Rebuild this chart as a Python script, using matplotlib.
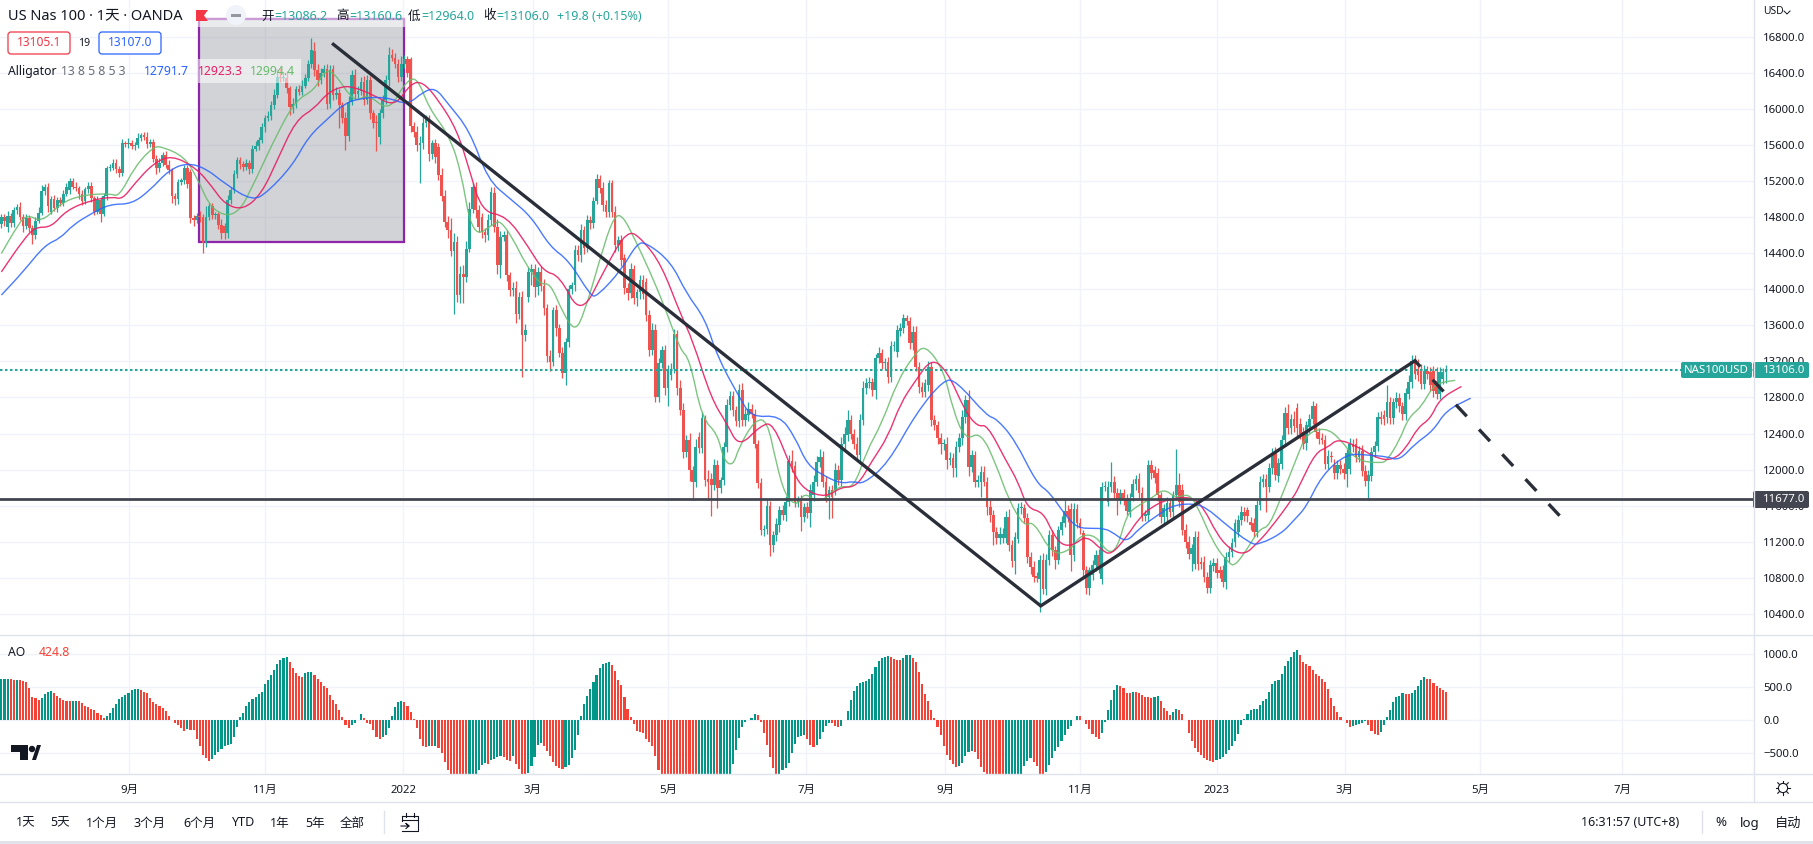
# US Nas 100 daily chart with Alligator and AO panes.
import numpy as np
import matplotlib
matplotlib.use('Agg')
import matplotlib.pyplot as plt
from matplotlib.patches import Rectangle, Polygon, Circle, FancyBboxPatch, PathPatch
from matplotlib.path import Path

plt.rcParams['font.family'] = ['Noto Sans', 'Noto Sans CJK SC', 'DejaVu Sans']

# daily candles
opens = [
    14720,14800,14690,14810,14730,14880,14910,14800,14700,14790,
    14680,14600,14760,14850,15090,15140,14860,15000,14900,14990,
    14960,15060,15100,15200,15140,15120,15060,14980,15110,15150,
    15010,14860,14990,14840,15030,15340,15350,15400,15330,15290,
    15620,15610,15620,15590,15600,15680,15710,15690,15610,15630,
    15450,15340,15400,15490,15380,15320,15030,15000,15190,15210,
    15340,15300,14790,14770,14810,14800,14510,14800,14920,14820,
    14830,14710,14700,14620,14990,15100,15280,15430,15390,15360,
    15400,15330,15560,15590,15660,15800,15900,15920,16040,16160,
    16360,16340,16340,16230,16020,16060,16220,16190,16260,16340,
    16500,16640,16430,16320,16400,16440,16060,16440,16150,16180,
    16040,15900,15700,16080,16380,16170,16200,16300,16100,16320,
    15950,15850,15690,15950,16100,16320,16600,16570,16500,16360,
    16500,16550,16550,15810,15750,15600,15620,15850,15900,15500,
    15620,15580,15270,15040,14750,14660,14430,14530,13940,14170,
    14140,14450,14895,15137,14880,14800,14638,14600,14770,15063,
    14693,14268,14582,14600,14155,13990,14010,13731,13915,13490,
    13916,14193,14220,14030,14193,14040,13790,13262,13196,13768,
    13565,13296,13074,13416,13998,14046,14434,14378,14656,14453,
    14767,14730,14982,15218,15118,14934,14860,15174,14860,14490,
    14545,14345,14010,13955,14220,13900,13966,14100,14083,13720,
    13325,13547,12808,13180,13325,12900,13047,13120,13503,12900,
    12666,12197,12326,11993,11863,12356,12234,12567,11893,11893,
    11826,12056,11801,11882,12252,12714,12814,12659,12541,12888,
    12548,12604,12677,12622,12289,11852,11327,11340,11593,11160,
    11271,11383,11549,11494,11642,12097,12037,11642,11660,11475,
    11586,11520,11716,11864,12085,12141,11864,11697,11771,11771,
    11993,11882,12289,12381,12548,12400,12289,12160,12555,12900,
    12955,12970,12888,13233,13295,13177,13188,13029,13369,13307,
    13540,13570,13678,13652,13400,13530,13140,12911,12863,12937,
    13140,12548,12493,12345,12282,12282,12111,12123,12012,12252,
    12345,12578,12770,12030,12160,11863,11863,11975,11863,11586,
    11494,11308,11236,11236,11236,11476,11161,10988,11235,11569,
    11569,11458,11032,10921,10810,10791,11002,10680,10995,11272,
    11106,11002,11328,11409,11543,11568,11050,11568,11402,11291,
    10884,10688,10830,10940,11050,10791,11809,11643,11809,11865,
    11735,11668,11735,11668,11532,11698,11839,11890,11742,11490,
    11494,12050,11990,11957,11716,11469,11476,11631,11524,11716,
    11828,11772,11335,11198,11069,10958,11254,10977,10977,10810,
    10688,10930,10965,10891,10891,10754,11025,11087,11199,11309,
    11439,11532,11550,11420,11409,11309,11606,11865,11900,11809,
    12013,12179,11930,12061,12327,12623,12456,12560,12679,12507,
    12414,12292,12470,12562,12703,12414,12355,12329,12063,12155,
    12055,11960,12055,12008,11952,12008,12285,12285,12137,12211,
    11989,11878,11933,12193,12267,12581,12600,12581,12747,12570,
    12747,12796,12700,12611,12833,12970,13210,13118,13118,12951,
    13099,13080,13099,12988,12840,13000,13086]
closes = [
    14800,14760,14810,14730,14880,14910,14800,14700,14790,14680,
    14600,14760,14850,15090,15140,14920,15000,14900,14990,14960,
    15060,15130,15200,15140,15120,15060,14980,15110,15150,15010,
    14860,14990,14840,15030,15340,15350,15400,15330,15290,15620,
    15610,15620,15590,15600,15680,15710,15690,15610,15630,15450,
    15340,15400,15490,15380,15320,15030,15000,15190,15210,15340,
    15170,14790,14770,14810,14800,14510,14800,14920,14820,14830,
    14710,14620,14620,14990,15100,15280,15430,15390,15360,15400,
    15330,15560,15590,15660,15800,15900,15920,16040,16160,16360,
    16340,16350,16230,16020,16060,16220,16190,16260,16340,16500,
    16650,16430,16320,16400,16440,16060,16430,16150,16180,16040,
    15900,15700,16080,16380,16170,16200,16300,16100,16320,15950,
    15850,15840,15950,16100,16320,16600,16570,16500,16360,16500,
    16550,16400,15810,15750,15600,15620,15850,15900,15500,15620,
    15470,15270,15040,14750,14660,14430,14530,13940,14170,14140,
    14450,14895,15137,14880,14693,14638,14600,14770,15082,14693,
    14268,14582,14600,14155,13990,14010,13731,13915,13490,13550,
    14193,14220,14030,14193,14040,13790,13262,13196,13768,13565,
    13296,13074,13416,13998,14046,14434,14378,14656,14453,14767,
    14730,14982,15218,15118,14934,14860,15174,14860,14490,14545,
    14323,14010,13955,14220,13900,13966,14100,13950,13720,13325,
    13547,12808,13180,13325,12900,13120,13120,13503,12900,12666,
    12197,12326,11993,11863,12252,12234,12567,11882,11860,11826,
    12056,11801,11882,12252,12714,12814,12659,12541,12888,12548,
    12622,12677,12622,12289,11852,11327,11340,11593,11160,11271,
    11401,11549,11494,11640,12097,12037,11642,11660,11475,11586,
    11520,11778,11864,12085,12141,11864,11697,11771,11700,11993,
    11882,12289,12400,12548,12400,12289,12160,12555,12900,12955,
    12970,12888,13233,13295,13177,13188,13029,13369,13380,13547,
    13570,13678,13652,13400,13530,13140,12911,12863,12955,13140,
    12548,12493,12345,12282,12290,12111,12130,12012,12252,12345,
    12585,12770,12030,12160,11863,11880,11975,11863,11586,11494,
    11308,11236,11290,11290,11476,11161,10988,11254,11569,11590,
    11458,11032,10921,10810,10800,11002,10680,11002,11272,11106,
    11002,11328,11420,11543,11480,11050,11568,11402,11347,10891,
    10688,10884,10940,11050,10903,11809,11810,11809,11865,11735,
    11668,11735,11668,11543,11680,11839,11890,11742,11483,11500,
    12050,11957,11910,11716,11469,11570,11631,11530,11716,11828,
    11643,11335,11198,11069,11125,11254,10951,10951,10810,10688,
    10940,10965,10854,10854,10754,11025,11087,11187,11402,11440,
    11532,11484,11484,11384,11309,11606,11865,11900,11809,12013,
    12179,11939,12068,12327,12623,12456,12560,12479,12456,12396,
    12285,12489,12562,12703,12414,12340,12329,12063,12155,12140,
    11960,12055,12008,11960,12181,12285,12250,12137,12211,11989,
    11878,11945,12193,12267,12581,12565,12565,12747,12570,12747,
    12796,12700,12618,12847,12977,13210,13062,13044,12951,13099,
    13062,12933,12877,12840,13080,13086,13106]
upper_wick = [
    40,30,60,40,30,40,60,40,50,30,
    30,40,60,70,30,40,40,50,30,30,
    40,50,40,30,50,30,40,30,40,40,
    30,40,30,40,30,40,50,40,40,50,
    30,60,40,30,50,20,30,50,40,40,
    40,60,30,40,50,30,40,30,30,40,
    40,30,30,40,60,40,120,40,40,30,
    30,70,30,60,30,40,40,40,30,50,
    30,40,50,30,40,30,60,50,60,80,
    100,60,80,30,60,40,50,60,50,40,
    134,100,70,60,50,60,60,50,60,40,
    40,70,60,50,60,50,60,70,60,50,
    40,80,50,60,60,90,60,50,50,90,
    50,40,30,50,60,80,60,30,30,40,
    50,40,70,60,60,130,90,60,90,100,
    90,70,40,50,60,50,40,60,50,70,
    90,60,50,60,40,70,80,50,70,60,
    50,60,60,50,60,70,50,60,40,60,
    50,60,40,50,40,60,60,70,50,60,
    50,40,60,50,70,60,40,40,60,50,
    60,50,60,70,50,40,60,60,40,50,
    80,70,60,50,60,40,60,60,50,90,
    70,60,80,50,90,60,70,40,100,70,
    60,50,40,50,70,60,60,50,60,70,
    60,70,50,50,40,60,40,70,60,50,
    60,50,60,70,60,120,60,50,60,40,
    50,60,80,70,90,60,60,50,60,80,
    60,70,70,118,60,50,70,60,80,60,
    60,50,50,60,40,50,60,60,50,60,
    60,50,40,40,60,60,50,60,50,60,
    50,60,50,60,50,80,60,60,70,60,
    80,60,110,60,50,60,70,60,60,80,
    60,50,70,60,60,90,60,50,60,50,
    50,60,50,60,50,50,70,60,60,60,
    50,50,60,137,60,60,60,50,60,40,
    50,40,60,60,70,50,60,60,214,60,
    60,50,50,60,60,60,50,70,60,50,
    60,60,50,60,40,50,60,50,50,400,
    130,70,60,60,50,60,60,50,60,50,
    60,50,50,40,50,60,60,50,50,60,
    60,50,40,50,50,60,60,50,50,60,
    60,70,60,60,70,100,60,90,60,60,
    60,50,50,60,33,50,50,50,60,50,
    60,50,50,60,50,60,50,60,50,60,
    60,50,60,50,60,70,60,186,60,50,
    60,50,50,60,70,60,60,110,50,60,
    50,60,50,148,60,40,54]
lower_wick = [
    40,60,50,40,40,40,30,60,30,50,
    100,40,30,30,40,60,30,30,40,40,
    40,30,40,30,30,60,40,30,40,40,
    40,30,90,30,40,30,30,40,40,30,
    30,40,30,40,30,30,30,40,30,40,
    60,40,30,40,40,70,60,50,30,40,
    50,60,70,40,50,110,40,30,40,40,
    40,60,60,50,40,30,40,60,50,40,
    50,40,30,40,40,50,30,40,40,40,
    40,30,50,90,60,50,40,40,30,30,
    40,60,60,40,50,60,50,50,40,250,
    60,155,50,40,60,50,40,60,50,60,
    60,310,80,50,40,60,40,50,60,50,
    40,50,60,60,70,420,60,50,80,60,
    70,60,60,60,90,60,700,80,90,290,
    60,40,50,90,60,70,80,50,60,60,
    100,140,50,60,70,60,100,60,460,60,
    60,140,120,90,60,70,70,100,50,80,
    50,60,137,60,50,60,60,70,60,40,
    60,50,40,50,70,60,60,60,80,60,
    60,60,70,50,60,80,70,60,70,60,
    50,60,60,50,70,190,50,50,70,60,
    70,60,120,180,60,50,50,60,200,340,
    50,230,60,50,60,50,60,60,70,60,
    70,60,50,50,60,55,60,50,120,70,
    60,70,50,60,50,60,60,60,160,60,
    60,160,60,50,60,60,60,240,240,50,
    50,60,60,60,60,60,50,60,60,60,
    50,70,100,50,60,60,70,60,50,60,
    60,50,50,60,70,50,60,60,60,70,
    60,50,60,110,60,100,60,93,93,60,
    70,60,100,60,60,60,166,50,90,70,
    150,60,60,50,50,60,70,150,50,60,
    50,70,80,60,50,369,60,70,50,60,
    110,50,50,50,60,170,60,50,60,80,
    70,81,60,70,50,60,50,50,60,60,
    170,50,60,50,60,50,60,60,50,60,
    60,60,60,60,60,80,60,60,50,40,
    60,60,70,60,190,60,60,50,60,60,
    60,50,60,60,60,80,50,60,60,60,
    50,50,60,50,60,60,50,60,280,60,
    60,60,70,50,60,60,60,60,80,60,
    60,70,60,60,60,60,50,60,60,60,
    70,60,60,70,148,60,60,50,50,60,
    60,210,60,50,60,60,70,60,60,60,
    60,60,70,60,50,60,60,60,60,60,
    60,60,70,60,60,50,122]

# awesome oscillator, one value a bar (those under -800 are off the pane)
ao_values = [
    630,630,630,625,615,615,610,590,580,480,
    345,330,305,330,395,430,440,415,365,330,
    305,295,290,290,290,285,255,215,195,165,
    155,115,80,40,65,115,180,245,320,355,
    380,415,455,470,470,455,430,405,340,280,
    245,215,180,145,65,5,-35,-70,-120,-155,
    -135,-145,-150,-280,-385,-520,-570,-610,-585,-530,
    -480,-435,-395,-380,-355,-245,-95,45,110,215,
    280,320,355,400,430,555,605,680,755,855,
    905,945,955,880,790,715,665,660,715,730,
    735,680,630,580,520,480,380,305,240,155,
    55,-70,-110,-70,-35,5,90,30,-35,-60,
    -145,-255,-280,-245,-220,-110,65,195,270,290,
    270,215,130,20,-110,-280,-395,-410,-385,-395,
    -385,-420,-495,-630,-755,-820,-860,-900,-930,-950,
    -960,-940,-910,-880,-745,-670,-645,-655,-600,-580,
    -555,-545,-560,-595,-610,-545,-655,-735,-810,-820,
    -795,-695,-555,-370,-345,-385,-470,-545,-635,-695,
    -720,-730,-700,-670,-570,-445,-220,65,240,365,
    470,580,680,790,845,865,875,830,740,615,
    530,355,165,45,-55,-155,-170,-195,-285,-320,
    -395,-545,-755,-820,-850,-900,-980,-1050,-1120,-1180,
    -1210,-1240,-1260,-1280,-1300,-1270,-1240,-1200,-1160,-1120,
    -1090,-1100,-1050,-1000,-920,-820,-665,-455,-265,-95,
    -25,10,40,90,85,-20,-185,-380,-560,-725,
    -830,-815,-755,-725,-650,-500,-350,-255,-230,-225,
    -275,-365,-410,-365,-275,-170,-80,-35,-40,-80,
    -95,-80,5,145,310,445,520,565,580,595,
    625,700,805,895,940,955,970,955,925,910,
    905,940,985,990,940,880,730,550,400,295,
    160,40,-95,-215,-395,-530,-605,-665,-710,-695,
    -650,-545,-485,-470,-485,-590,-710,-785,-820,-850,
    -880,-900,-920,-930,-910,-890,-870,-850,-830,-810,
    -695,-620,-575,-635,-695,-810,-830,-785,-680,-575,
    -470,-410,-305,-215,-125,-80,5,70,65,0,
    -50,-125,-200,-245,-275,-185,-20,160,310,460,
    535,520,490,415,410,430,425,415,385,355,
    350,340,355,370,295,190,145,85,130,175,
    160,100,10,-185,-305,-425,-485,-530,-575,-600,
    -620,-635,-605,-590,-560,-515,-455,-395,-305,-200,
    -65,25,100,160,165,175,235,295,325,430,
    550,595,610,700,820,895,955,1030,1060,985,
    880,850,820,760,700,670,625,580,475,340,
    220,130,55,10,-45,-95,-90,-65,-50,-45,
    -5,-65,-155,-200,-215,-170,-65,55,160,280,
    355,370,415,400,395,415,460,520,610,655,
    625,620,565,520,490,460,425]

# alligator lines: bar number and level at the places they were read
blue_bar = [0,7,14,19,23,29,35,42,48,54,60,66,72,81,86,94,99,106,110,115,124,131,136,140,144,151,157,164,171,177,
            183,190,192,200,205,208,216,221,227,231,238,242,251,256,260,266,271,275,278,286,295,304,308,318,321,
            327,334,338,343,347,352,356,359,363,367,373,378,385,389,394,403,406,413,417,421,426,434,441,447,451,
            456,462,466,474]
blue_val = [13936,14194,14490,14565,14712,14840,14945,14945,15100,15322,15403,15340,15174,14978,15082,15378,15692,15914,16043,16117,16136,16043,16190,16236,16062,15766,15211,15008,14804,14471,
            14323,13934,13916,14212,14508,14519,14305,13953,13675,13250,12806,12578,12604,12363,12048,11919,11845,11871,11838,12067,12622,13000,12985,12593,12567,
            12327,11846,11754,11506,11354,11347,11347,11291,11191,11347,11495,11606,11624,11569,11421,11173,11173,11291,11439,11587,11938,12179,12160,12144,12100,
            12285,12433,12655,12792]
red_bar = [0,7,11,16,21,29,36,39,43,49,55,63,68,72,78,84,89,95,101,105,110,114,120,127,132,136,141,147,151,155,
           163,170,175,180,187,195,202,207,213,219,223,229,234,238,245,249,255,259,266,271,276,281,286,290,295,
           300,305,311,315,318,324,328,331,336,339,342,346,350,355,358,363,367,371,377,384,388,392,396,401,405,
           409,417,419,424,428,431,437,444,449,453,457,461,464,471]
red_val = [14193,14545,14693,14685,14878,14989,15026,14997,15174,15397,15489,15340,15137,14945,14878,15063,15433,15877,16006,16173,16254,16240,16155,16025,16284,16302,16099,15766,15322,14860,
           14815,14471,14193,14156,13694,14249,14667,14545,14267,13731,13436,12788,12511,12245,12492,12518,11993,11771,11690,11808,11808,12104,12363,12733,12992,
           13232,13103,12641,12474,12500,12104,11865,11569,11531,11309,11161,11161,11272,11106,11051,11254,11458,11587,11680,11698,11569,11291,11124,11051,11180,
           11328,11698,11841,12192,12248,12340,12266,12118,12107,12230,12470,12563,12785,12922]
green_bar = [0,4,8,13,19,26,35,38,43,49,52,59,63,68,76,82,89,95,101,104,107,114,118,125,130,134,138,144,148,152,
             159,161,165,169,174,177,181,185,188,193,197,200,205,209,214,219,222,226,231,233,236,238,243,247,250,
             253,257,259,264,270,275,279,284,289,294,298,304,307,311,316,321,325,330,333,339,345,348,353,357,360,
             363,366,371,375,379,383,386,391,396,398,402,406,409,414,418,421,427,432,437,445,447,451,454,458,462,465,469]
green_val = [14397,14637,14841,14739,14954,15045,15063,15026,15359,15581,15581,15470,15249,14860,14804,15211,15730,16099,16210,16414,16425,16062,16173,15970,16284,16365,16006,15730,15359,14564,
             14730,14760,14564,14286,14046,14072,13749,13528,13731,14323,14767,14852,14508,14212,13805,13325,13233,12567,12400,12104,12037,12252,12548,12555,12067,
             11697,11597,11752,11615,11827,11790,12197,12511,12974,13251,13392,13103,12659,12326,12419,12048,11661,11365,11432,11051,11106,11273,11273,11069,11125,
             11495,11587,11680,11791,11680,11735,11587,11180,10959,10932,11125,11347,11365,11791,12142,12396,12470,12340,12100,12070,12100,12322,12581,12692,12933,12970,12990]

# drawings on the chart
trend_bar = [107.1, 335.3, 456.0]
trend_val = [16717, 10488, 13207]
dash_bar = [456.0, 502.8]
dash_val = [13207, 11484]
box_bar = [63.6, 129.9]
box_val = [14524, 16994]
last_price = 13106.0
hline_price = 11677.0

price_ticks = list(range(10400, 17200, 400))
ao_ticks = [1000, 500, 0, -500]
ao_tick_labels = ['1000.0', '500.0', '0.0', '\u2212500.0']
month_bars = [41.3, 85.2, 129.7, 171.4, 215.0, 259.7, 304.5, 348.0, 392.0, 433.4, 477.0, 522.8]
month_labels = ['9月', '11月', '2022', '3月', '5月', '7月', '9月', '11月', '2023', '3月', '5月', '7月']

UP = '#26a69a'
DOWN = '#ef5350'
AO_UP = '#009688'
AO_DOWN = '#f44336'
GRID = '#f0f3fa'
BORDER = '#e0e3eb'
TEXT = '#131722'
DARK = '#434651'
LINE = '#2a2e39'


def rounded_line(ax, xs, ys, color, alpha):
    # quadratic curve with the read points as control points, so the corners are soft
    pts = np.column_stack([xs, ys]).astype(float)
    mids = (pts[:-1] + pts[1:]) / 2
    verts = [pts[0], mids[0]]
    codes = [Path.MOVETO, Path.LINETO]
    for k in range(1, len(pts) - 1):
        verts += [pts[k], mids[k]]
        codes += [Path.CURVE3, Path.CURVE3]
    verts.append(pts[-1])
    codes.append(Path.LINETO)
    ax.add_patch(PathPatch(Path(verts, codes), facecolor='none', edgecolor=color, lw=1.0, alpha=alpha, zorder=4))


W, H = 1813, 844
fig = plt.figure(figsize=(W / 100, H / 100), dpi=100, facecolor='white')
ax = fig.add_axes([0, 1 - 635 / H, 1754 / W, 635 / H])
sub = fig.add_axes([0, 1 - 774 / H, 1754 / W, 139 / H])
ui = fig.add_axes([0, 0, 1, 1], facecolor='none')
ui.set_xlim(0, W)
ui.set_ylim(H, 0)
ui.axis('off')

bars = np.arange(len(closes))
o = np.array(opens)
c = np.array(closes)
top = np.maximum(o, c)
low = np.minimum(o, c)
colors = [UP if e >= s else DOWN for s, e in zip(opens, closes)]

# price pane
ax.set_xlim(-0.45, 565.4)
ax.set_ylim(10165, 17209)
ax.set_axisbelow(True)
ax.grid(color=GRID, lw=1.0)
ax.add_patch(Rectangle((box_bar[0], box_val[0]), box_bar[1] - box_bar[0], box_val[1] - box_val[0],
                       facecolor='#787b86', alpha=0.33, edgecolor='none', zorder=1))
ax.add_patch(Rectangle((box_bar[0], box_val[0]), box_bar[1] - box_bar[0], box_val[1] - box_val[0],
                       facecolor='none', edgecolor='#8e24aa', lw=1.6, zorder=1.5))
ax.vlines(bars, low - np.array(lower_wick), top + np.array(upper_wick), colors=colors, lw=0.9, zorder=2)
ax.bar(bars, np.maximum(top - low, 14), bottom=low, width=0.86, color=colors, lw=0, zorder=3)
rounded_line(ax, green_bar, green_val, '#66bb6a', 0.85)
rounded_line(ax, red_bar, red_val, '#e91e63', 0.9)
rounded_line(ax, blue_bar, blue_val, '#2962ff', 0.85)
ax.axhline(last_price, color=UP, lw=1.5, ls=(0, (1.2, 1.2)), zorder=4)
ax.axhline(hline_price, color=DARK, lw=2.0, zorder=5)
ax.plot(trend_bar, trend_val, color=LINE, lw=2.4, solid_joinstyle='miter', zorder=6)
ax.plot(dash_bar, dash_val, color=LINE, lw=2.4, ls=(2.4, (4.8, 5.4)), dash_capstyle='butt', zorder=6)
ax.set_xticks(month_bars)
ax.tick_params(labelbottom=False, length=0)
ax.yaxis.tick_right()
ax.set_yticks(price_ticks)
ax.set_yticklabels(['%.1f' % p for p in price_ticks], fontsize=8.2, color=TEXT)
ax.tick_params(axis='y', pad=6.5)
for s in ax.spines.values():
    s.set_visible(False)

# AO pane
ao = np.array(ao_values)
ao_x = np.arange(len(closes) - len(ao), len(closes))
ao_rise = np.diff(ao, prepend=ao[0]) >= 0
sub.set_xlim(ax.get_xlim())
sub.set_ylim(-810, 1287)
sub.set_axisbelow(True)
sub.grid(color=GRID, lw=1.0)
sub.bar(ao_x, ao, width=0.68, color=[AO_UP if r else AO_DOWN for r in ao_rise], lw=0, zorder=3)
sub.set_xticks(month_bars)
sub.set_xticklabels(month_labels, fontsize=8.2, color=TEXT)
for lab, t in zip(sub.get_xticklabels(), month_labels):
    if t.startswith('20'):
        lab.set_fontweight('bold')
sub.tick_params(axis='x', length=0, pad=8)
sub.yaxis.tick_right()
sub.set_yticks(ao_ticks)
sub.set_yticklabels(ao_tick_labels, fontsize=8.2, color=TEXT)
sub.tick_params(axis='y', length=0, pad=6.5)
for s in sub.spines.values():
    s.set_visible(False)

# frame lines and toolbar
ui.plot([0, W], [635, 635], color=BORDER, lw=1.0)
ui.plot([0, W], [774, 774], color=BORDER, lw=1.0)
ui.plot([0, W], [802, 802], color=BORDER, lw=1.0)
ui.plot([1754, 1754], [0, 802], color=BORDER, lw=1.0)
ui.add_patch(Rectangle((0, 841), W, 3, facecolor=BORDER, edgecolor='none'))
ui.plot([384, 384], [811, 833], color=BORDER, lw=1.0)
ui.plot([1702, 1702], [811, 833], color=BORDER, lw=1.0)

# translucent header strips over the box
ui.add_patch(Rectangle((197, 18), 208, 9, facecolor='white', alpha=0.55, edgecolor='none'))
ui.add_patch(Rectangle((198, 59), 103, 24, facecolor='white', alpha=0.55, edgecolor='none'))

# legend block
ui.text(8, 16, 'US Nas 100 · 1天 · OANDA', fontsize=10.5, color=TEXT, va='center')
ui.add_patch(Polygon([(196, 10), (208, 10), (204, 15.5), (208, 21), (196, 21)], facecolor='#f23645', edgecolor='none'))
ui.add_patch(Circle((236, 15), 10, facecolor='#f0f3fa', edgecolor='none'))
ui.add_patch(Rectangle((231, 13.5), 10, 3, facecolor='#9598a1', edgecolor='none'))
ohlc = [(261, '开', '13086.2'), (336, '高', '13160.6'), (408, '低', '12964.0'), (483, '收', '13106.0')]
for x, name, val in ohlc:
    ui.text(x, 16, name, fontsize=9, color=TEXT, va='center')
    ui.text(x + 13, 16, '=' + val, fontsize=9, color=UP, va='center')
ui.text(557, 16, '+19.8 (+0.15%)', fontsize=9, color=UP, va='center')

ui.add_patch(FancyBboxPatch((10, 34), 58, 18, boxstyle='round,pad=2,rounding_size=3', facecolor='white', edgecolor='#f23645', lw=0.9))
ui.text(39, 43, '13105.1', fontsize=8.6, color='#f23645', ha='center', va='center')
ui.text(84, 43, '19', fontsize=7.6, color=TEXT, ha='center', va='center')
ui.add_patch(FancyBboxPatch((101, 34), 58, 18, boxstyle='round,pad=2,rounding_size=3', facecolor='white', edgecolor='#2962ff', lw=0.9))
ui.text(130, 43, '13107.0', fontsize=8.6, color='#2962ff', ha='center', va='center')

ui.text(8, 71.5, 'Alligator', fontsize=8.8, color=TEXT, va='center')
ui.text(61, 71.5, '13 8 5 8 5 3', fontsize=8.8, color='#6a6d78', va='center')
ui.text(144, 71.5, '12791.7', fontsize=8.8, color='#2962ff', va='center')
ui.text(198, 71.5, '12923.3', fontsize=8.8, color='#e91e63', va='center')
ui.text(250, 71.5, '12994.4', fontsize=8.8, color='#66bb6a', va='center')

ui.text(8, 652.5, 'AO', fontsize=8.8, color=TEXT, va='center')
ui.text(39, 652.5, '424.8', fontsize=8.8, color=AO_DOWN, va='center')

# TradingView mark
ui.add_patch(Polygon([(11, 745), (28, 745), (28, 760), (20, 760), (20, 752), (11, 752)], facecolor=TEXT, edgecolor='none'))
ui.add_patch(Circle((32, 749), 3.2, facecolor=TEXT, edgecolor='none'))
ui.add_patch(Polygon([(32, 760), (37, 745), (41, 745), (36, 760)], facecolor=TEXT, edgecolor='none'))

# price tags on the right
ui.add_patch(FancyBboxPatch((1683, 364), 67, 12, boxstyle='round,pad=2,rounding_size=2', facecolor=UP, edgecolor='none'))
ui.text(1716, 370.5, 'NAS100USD', fontsize=8.2, color='white', ha='center', va='center')
ui.add_patch(FancyBboxPatch((1755, 364), 52, 12, boxstyle='round,pad=2,rounding_size=2', facecolor=UP, edgecolor='none'))
ui.text(1763, 370.5, '%.1f' % last_price, fontsize=8.2, color='white', va='center')
ui.add_patch(FancyBboxPatch((1755, 493), 52, 13, boxstyle='round,pad=2,rounding_size=2', facecolor=DARK, edgecolor='none'))
ui.text(1763, 499.5, '%.1f' % hline_price, fontsize=8.2, color='white', va='center')
ui.text(1763, 12, 'USD', fontsize=7.4, color=TEXT, va='center')
ui.plot([1784, 1787, 1790], [11, 14, 11], color=TEXT, lw=0.7)

# sun icon under the price scale
ui.add_patch(Circle((1783, 788), 4.6, facecolor='white', edgecolor=TEXT, lw=0.8))
for a in np.radians(np.arange(0, 360, 45)):
    ui.plot([1783 + 5 * np.cos(a), 1783 + 7.4 * np.cos(a)], [788 + 5 * np.sin(a), 788 + 7.4 * np.sin(a)], color=TEXT, lw=0.8)

# toolbar
ranges = [(16, '1天'), (50, '5天'), (86, '1个月'), (134, '3个月'), (183, '6个月'), (232, 'YTD'), (270, '1年'), (305, '5年'), (340, '全部')]
for x, t in ranges:
    ui.text(x, 823, t, fontsize=9, color=TEXT, va='center')
ui.plot([402, 418, 418, 402], [816, 816, 831, 831], color=TEXT, lw=0.8)
ui.plot([402, 402], [816, 821], color=TEXT, lw=0.8)
ui.plot([402, 418], [820, 820], color=TEXT, lw=0.8)
ui.plot([406, 406], [813, 817], color=TEXT, lw=0.8)
ui.plot([414, 414], [813, 817], color=TEXT, lw=0.8)
ui.plot([401, 409, 406, 409, 406], [826, 826, 823.5, 826, 828.5], color=TEXT, lw=0.8)
ui.text(1581, 823, '16:31:57 (UTC+8)', fontsize=9, color=TEXT, va='center')
ui.text(1721, 823, '%', fontsize=9.5, color=TEXT, ha='center', va='center')
ui.text(1750, 823, 'log', fontsize=9.5, color=TEXT, ha='center', va='center')
ui.text(1788, 823, '自动', fontsize=9.5, color=TEXT, ha='center', va='center')

fig.savefig('out.png', dpi=100, facecolor='white')
